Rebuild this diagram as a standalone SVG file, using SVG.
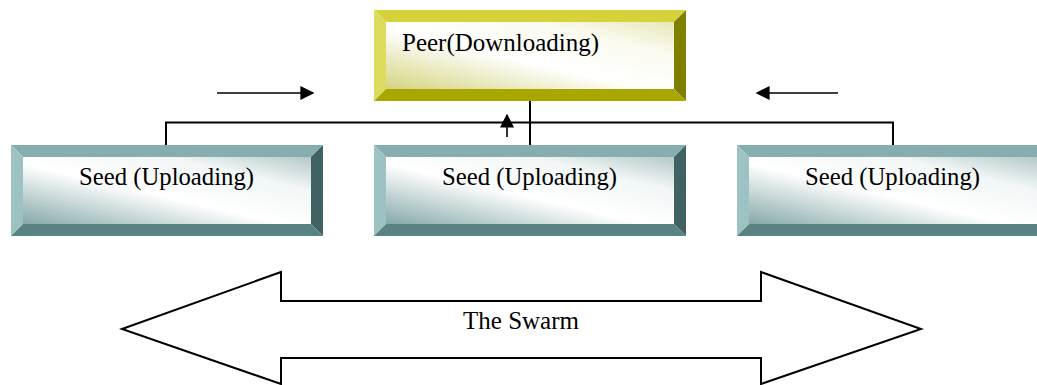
<svg xmlns="http://www.w3.org/2000/svg" width="1037" height="385" viewBox="0 0 1037 385">
<style>
text{font-family:"Liberation Serif",Tinos,"Times New Roman",Times,serif;font-size:25px;fill:#000}
.wire{fill:none;stroke:#000;stroke-width:2}
.arr{fill:none;stroke:#000;stroke-width:1.6}
.pt{fill:#d6d23a}.pl{fill:#dedc5e}.pr{fill:#808000}.pb{fill:#aaa600}
.st{fill:#86aeae}.sl{fill:#9cc2c2}.sr{fill:#406262}.sb{fill:#598282}
.pf{fill:url(#gp)}.sf{fill:url(#gs)}
</style>
<defs>
<linearGradient id="gp" x1="0" y1="1" x2="1" y2="0">
<stop offset="0" stop-color="#d4d480"/>
<stop offset="0.45" stop-color="#ffffff"/>
<stop offset="0.75" stop-color="#fbfbf0"/>
<stop offset="1" stop-color="#e8e8b8"/>
</linearGradient>
<linearGradient id="gs" x1="0" y1="1" x2="1" y2="0">
<stop offset="0" stop-color="#86a8a8"/>
<stop offset="0.45" stop-color="#ffffff"/>
<stop offset="0.75" stop-color="#f2f6f6"/>
<stop offset="1" stop-color="#b4c8c8"/>
</linearGradient>
<marker id="ah" viewBox="0 0 10 10" refX="9" refY="5" markerWidth="14" markerHeight="14" markerUnits="userSpaceOnUse" orient="auto">
<path d="M0,0 L10,5 L0,10 Z" fill="#000"/>
</marker>
</defs>

<g id="connectors">
<polyline class="wire" points="166,145 166,122.5 893,122.5 893,145"/>
<line class="wire" x1="530" y1="101" x2="530" y2="145"/>
<line class="arr" x1="507" y1="137" x2="507" y2="115" marker-end="url(#ah)"/>
<line class="arr" x1="217" y1="93" x2="313" y2="93" marker-end="url(#ah)"/>
<line class="arr" x1="838" y1="93" x2="757" y2="93" marker-end="url(#ah)"/>
</g>

<g id="peer">
<polygon class="pt" points="374,10 686,10 674,22 386,22"/>
<polygon class="pl" points="374,10 386,22 386,89 374,101"/>
<polygon class="pr" points="686,10 686,101 674,89 674,22"/>
<polygon class="pb" points="374,101 386,89 674,89 686,101"/>
<rect class="pf" x="386" y="22" width="288" height="67"/>
<text x="402" y="51" textLength="197" lengthAdjust="spacingAndGlyphs">Peer(Downloading)</text>
</g>

<g id="seed1">
<polygon class="st" points="11,145 323,145 311,157 23,157"/>
<polygon class="sl" points="11,145 23,157 23,224 11,236"/>
<polygon class="sr" points="323,145 323,236 311,224 311,157"/>
<polygon class="sb" points="11,236 23,224 311,224 323,236"/>
<rect class="sf" x="23" y="157" width="288" height="67"/>
<text x="79" y="185" textLength="175" lengthAdjust="spacingAndGlyphs">Seed (Uploading)</text>
</g>

<g id="seed2">
<polygon class="st" points="374,145 686,145 674,157 386,157"/>
<polygon class="sl" points="374,145 386,157 386,224 374,236"/>
<polygon class="sr" points="686,145 686,236 674,224 674,157"/>
<polygon class="sb" points="374,236 386,224 674,224 686,236"/>
<rect class="sf" x="386" y="157" width="288" height="67"/>
<text x="442" y="185" textLength="175" lengthAdjust="spacingAndGlyphs">Seed (Uploading)</text>
</g>

<g id="seed3">
<polygon class="st" points="737,145 1049,145 1037,157 749,157"/>
<polygon class="sl" points="737,145 749,157 749,224 737,236"/>
<polygon class="sr" points="1049,145 1049,236 1037,224 1037,157"/>
<polygon class="sb" points="737,236 749,224 1037,224 1049,236"/>
<rect class="sf" x="749" y="157" width="288" height="67"/>
<text x="805" y="185" textLength="175" lengthAdjust="spacingAndGlyphs">Seed (Uploading)</text>
</g>

<g id="swarm">
<polygon points="122,329 281,272 281,301 761,301 761,272 921,329 761,384 761,358 281,358 281,384" fill="#fff" stroke="#000" stroke-width="2"/>
<text x="463" y="329" textLength="116" lengthAdjust="spacingAndGlyphs">The Swarm</text>
</g>
</svg>
